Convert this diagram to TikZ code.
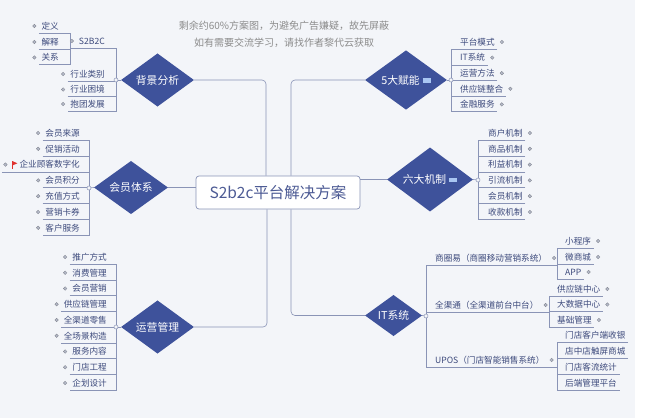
\documentclass[tikz,border=0pt]{standalone}
\usepackage{fontspec}
\setmainfont{Noto Sans CJK SC}
\usetikzlibrary{shapes.geometric}
\definecolor{topicc}{HTML}{3E529B}
\definecolor{linec}{HTML}{8A94B6}
\definecolor{leafc}{HTML}{3D4A7C}
\definecolor{rootc}{HTML}{4C5A94}
\definecolor{bgc}{HTML}{F3F5F9}
\definecolor{notec}{HTML}{A9C6F2}
\definecolor{memoc}{HTML}{8C8C8C}
\definecolor{flagc}{HTML}{E0322E}
\definecolor{knobc}{HTML}{B4B9C8}
\begin{document}
\begin{tikzpicture}[x=1pt,y=-1pt,
		root/.style={rectangle,rounded corners=3pt,draw=linec,line width=0.7pt,fill=white,minimum width=164pt,minimum height=33pt,text=rootc,font=\fontsize{15.5}{18}\selectfont},
		topic/.style={diamond,fill=topicc,text=white,inner sep=0pt,font=\fontsize{10.8}{12}\selectfont},
		leaf/.style={rectangle,inner xsep=2.5pt,inner ysep=0pt,minimum height=14pt,text=leafc,font=\fontsize{8.6}{10}\selectfont},
		leafl/.style={leaf,anchor=east},
		leafr/.style={leaf,anchor=west},
		branch/.style={draw=linec,line width=0.6pt},
		joint/.style={draw=linec,fill=bgc,line width=0.5pt},
		knob/.style={draw=knobc!70!black,fill=knobc,line width=0.3pt}]
		\fill[white] (0,0) rectangle (656,418);
		\fill[bgc] (0,0) rectangle (635,418);
		\useasboundingbox (0,0) rectangle (656,418);

		\node at (284,34.5) [align=center,text=memoc,font=\fontsize{10}{17}\selectfont] (memo) {剩余约60\%方案图，为避免广告嫌疑，故先屏蔽\\如有需要交流学习，请找作者黎代云获取};

		\node at (278,192.5) [root] (root) {S2b2c平台解决方案};

		\node at (157.5,80)  [topic,minimum width=73pt,minimum height=44pt] (bg)   {背景分析};
		\node at (131,187.5) [topic,minimum width=74pt,minimum height=45pt] (mem)  {会员体系};
		\node at (157.5,327) [topic,minimum width=73pt,minimum height=44pt] (op)   {运营管理};
		\node at (406,80)    [topic,minimum width=82pt,minimum height=44pt] (five) {5大赋能\hspace{3pt}\textcolor{notec}{\rule[1.2pt]{8pt}{4.5pt}}};
		\node at (430,179.5) [topic,minimum width=86pt,minimum height=46pt] (six)  {六大机制\hspace{3pt}\textcolor{notec}{\rule[1.2pt]{8pt}{4.5pt}}};
		\node at (393.5,315.5) [topic,minimum width=57pt,minimum height=39pt] (it) {IT系统};

		\coordinate (bgj)   at (116,80);
		\coordinate (s2j)   at (70,48);
		\coordinate (memj)  at (89,188);
		\coordinate (opj)   at (116,327);
		\coordinate (fivej) at (451,80);
		\coordinate (sixj)  at (478,180);
		\coordinate (itj)   at (426,316);
		\coordinate (sqj)   at (557,265);
		\coordinate (qqj)   at (549,312);
		\coordinate (upj)   at (557,367);

		\node at (107.5,41)   [leafl] (s2b) {S2B2C};
		\node at (107.5,74)   [leafl] (hy1) {行业类别};
		\node at (107.5,89.5) [leafl] (hy2) {行业困境};
		\node at (107.5,104)  [leafl] (hy3) {抱团发展};
		\node at (61.5,26)    [leafl] (dy)  {定义};
		\node at (61.5,42)    [leafl] (js)  {解释};
		\node at (61.5,57.5)  [leafl] (gx)  {关系};

		\node at (82.5,133)   [leafl] (ms1) {会员来源};
		\node at (82.5,148.8) [leafl] (ms2) {促销活动};
		\node at (82.5,164.6) [leafl] (ms3) {企业顾客数字化};
		\node at (82.5,180.4) [leafl] (ms4) {会员积分};
		\node at (82.5,196.2) [leafl] (ms5) {充值方式};
		\node at (82.5,212)   [leafl] (ms6) {营销卡券};
		\node at (82.5,227.8) [leafl] (ms7) {客户服务};

		\node at (109.5,257)    [leafl] (yy1) {推广方式};
		\node at (109.5,272.75) [leafl] (yy2) {消费管理};
		\node at (109.5,288.5)  [leafl] (yy3) {会员营销};
		\node at (109.5,304.25) [leafl] (yy4) {供应链管理};
		\node at (109.5,320)    [leafl] (yy5) {全渠道零售};
		\node at (109.5,335.75) [leafl] (yy6) {全场景构造};
		\node at (109.5,351.5)  [leafl] (yy7) {服务内容};
		\node at (109.5,367.25) [leafl] (yy8) {门店工程};
		\node at (109.5,383)    [leafl] (yy9) {企划设计};

		\node at (457.5,42)    [leafr] (fn1) {平台模式};
		\node at (457.5,57.6)  [leafr] (fn2) {IT系统};
		\node at (457.5,73.2)  [leafr] (fn3) {运营方法};
		\node at (457.5,88.8)  [leafr] (fn4) {供应链整合};
		\node at (457.5,104.4) [leafr] (fn5) {金融服务};

		\node at (485.5,133)   [leafr] (jz1) {商户机制};
		\node at (485.5,148.8) [leafr] (jz2) {商品机制};
		\node at (485.5,164.6) [leafr] (jz3) {利益机制};
		\node at (485.5,180.4) [leafr] (jz4) {引流机制};
		\node at (485.5,196.2) [leafr] (jz5) {会员机制};
		\node at (485.5,212)   [leafr] (jz6) {收款机制};

		\node at (432.5,258) [leafr] (sq) {商圈易（商圈移动营销系统）};
		\node at (432.5,305) [leafr] (qq) {全渠通（全渠道前台中台）};
		\node at (432.5,360) [leafr] (up) {UPOS（门店智能销售系统）};

		\node at (562.5,241)   [leafr] (sq1) {小程序};
		\node at (562.5,257)   [leafr] (sq2) {微商城};
		\node at (562.5,272)   [leafr] (sq3) {APP};
		\node at (554.5,289)   [leafr] (qq1) {供应链中心};
		\node at (554.5,304.5) [leafr] (qq2) {大数据中心};
		\node at (554.5,320)   [leafr] (qq3) {基础管理};
		\node at (562.5,335)   [leafr] (up1) {门店客户端收银};
		\node at (562.5,351)   [leafr] (up2) {店中店触屏商城};
		\node at (562.5,367)   [leafr] (up3) {门店客流统计};
		\node at (562.5,383)   [leafr] (up4) {后端管理平台};

		\draw[branch,rounded corners=4pt] ([xshift=-12pt]root.north) |- (bg.east);
		\draw[branch,rounded corners=4pt] ([xshift=13pt]root.north)  |- (five.west);
		\draw[branch] (root.west |- mem.east) -- (mem.east);
		\draw[branch] (root.east |- six.west) -- (six.west);
		\draw[branch,rounded corners=4pt] ([xshift=-11pt]root.south) |- (op.east);
		\draw[branch,rounded corners=4pt] ([xshift=13pt]root.south)  |- (it.west);

		\draw[branch] (bg.west) -- (bgj);
		\draw[branch] (s2b.south -| s2j) -- (s2b.south -| bgj) -- (hy3.south -| bgj) -- (hy3.south west);
		\draw[branch] (hy1.south west) -- (hy1.south -| bgj) (hy2.south west) -- (hy2.south -| bgj);
		\draw[branch] (dy.south west) -- (dy.south -| s2j) -- (gx.south -| s2j) -- (gx.south west);
		\draw[branch] (js.south west) -- (js.south -| s2j);

		\draw[branch] (mem.west) -- (memj);
		\draw[branch] (ms1.south west) -- (ms1.south -| memj) -- (ms7.south -| memj) -- (ms7.south west);
		\draw[branch] (ms2.south west) -- (ms2.south -| memj) ([xshift=-15pt]ms3.south west) -- (ms3.south -| memj)
			(ms4.south west) -- (ms4.south -| memj) (ms5.south west) -- (ms5.south -| memj) (ms6.south west) -- (ms6.south -| memj);

		\draw[branch] (op.west) -- (opj);
		\draw[branch] (yy1.south west) -- (yy1.south -| opj) -- (yy9.south -| opj) -- (yy9.south west);
		\draw[branch] (yy2.south west) -- (yy2.south -| opj) (yy3.south west) -- (yy3.south -| opj) (yy4.south west) -- (yy4.south -| opj)
			(yy5.south west) -- (yy5.south -| opj) (yy6.south west) -- (yy6.south -| opj) (yy7.south west) -- (yy7.south -| opj)
			(yy8.south west) -- (yy8.south -| opj);

		\draw[branch] (five.east) -- (fivej);
		\draw[branch] (fn1.south east) -- (fn1.south -| fivej) -- (fn5.south -| fivej) -- (fn5.south east);
		\draw[branch] (fn2.south east) -- (fn2.south -| fivej) (fn3.south east) -- (fn3.south -| fivej) (fn4.south east) -- (fn4.south -| fivej);

		\draw[branch] (six.east) -- (sixj);
		\draw[branch] (jz1.south east) -- (jz1.south -| sixj) -- (jz6.south -| sixj) -- (jz6.south east);
		\draw[branch] (jz2.south east) -- (jz2.south -| sixj) (jz3.south east) -- (jz3.south -| sixj) (jz4.south east) -- (jz4.south -| sixj)
			(jz5.south east) -- (jz5.south -| sixj);

		\draw[branch] (it.east) -- (itj);
		\draw[branch] (sq.south -| sqj) -- (sq.south -| itj) -- (up.south -| itj) -- (up.south -| upj);
		\draw[branch] (qq.south -| itj) -- (qq.south -| qqj);
		\draw[branch] (sq1.south east) -- (sq1.south -| sqj) -- (sq3.south -| sqj) -- (sq3.south east);
		\draw[branch] (sq2.south east) -- (sq2.south -| sqj);
		\draw[branch] (qq1.south east) -- (qq1.south -| qqj) -- (qq3.south -| qqj) -- (qq3.south east);
		\draw[branch] (qq2.south east) -- (qq2.south -| qqj);
		\draw[branch] (up1.south east) -- (up1.south -| upj) -- (up4.south -| upj) -- (up4.south east);
		\draw[branch] (up2.south east) -- (up2.south -| upj) (up3.south east) -- (up3.south -| upj);

		\draw[joint] (bgj) circle (2pt) (memj) circle (2pt) (opj) circle (2pt) (fivej) circle (2pt) (sixj) circle (2pt) (itj) circle (2pt);

		\draw[knob] ([xshift=-4.5pt]s2b.west) circle (1.8pt) ([xshift=-4.5pt]hy1.west) circle (1.8pt) ([xshift=-4.5pt]hy2.west) circle (1.8pt)
			([xshift=-4.5pt]hy3.west) circle (1.8pt) ([xshift=-4.5pt]dy.west) circle (1.8pt) ([xshift=-4.5pt]js.west) circle (1.8pt)
			([xshift=-4.5pt]gx.west) circle (1.8pt);
		\draw[knob] ([xshift=-4.5pt]ms1.west) circle (1.8pt) ([xshift=-4.5pt]ms2.west) circle (1.8pt) ([xshift=-11.5pt]ms3.west) circle (1.8pt)
			([xshift=-4.5pt]ms4.west) circle (1.8pt) ([xshift=-4.5pt]ms5.west) circle (1.8pt) ([xshift=-4.5pt]ms6.west) circle (1.8pt)
			([xshift=-4.5pt]ms7.west) circle (1.8pt);
		\draw[knob] ([xshift=-4.5pt]yy1.west) circle (1.8pt) ([xshift=-4.5pt]yy2.west) circle (1.8pt) ([xshift=-4.5pt]yy3.west) circle (1.8pt)
			([xshift=-4.5pt]yy4.west) circle (1.8pt) ([xshift=-4.5pt]yy5.west) circle (1.8pt) ([xshift=-4.5pt]yy6.west) circle (1.8pt)
			([xshift=-4.5pt]yy7.west) circle (1.8pt) ([xshift=-4.5pt]yy8.west) circle (1.8pt) ([xshift=-4.5pt]yy9.west) circle (1.8pt);
		\draw[knob] ([xshift=4.5pt]fn1.east) circle (1.8pt) ([xshift=4.5pt]fn2.east) circle (1.8pt) ([xshift=4.5pt]fn3.east) circle (1.8pt)
			([xshift=4.5pt]fn4.east) circle (1.8pt) ([xshift=4.5pt]fn5.east) circle (1.8pt);
		\draw[knob] ([xshift=4.5pt]jz1.east) circle (1.8pt) ([xshift=4.5pt]jz2.east) circle (1.8pt) ([xshift=4.5pt]jz3.east) circle (1.8pt)
			([xshift=4.5pt]jz4.east) circle (1.8pt) ([xshift=4.5pt]jz5.east) circle (1.8pt) ([xshift=4.5pt]jz6.east) circle (1.8pt);
		\draw[knob] ([xshift=4.5pt]sq.east) circle (1.8pt) ([xshift=4.5pt]qq.east) circle (1.8pt) ([xshift=4.5pt]up.east) circle (1.8pt)
			([xshift=4.5pt]sq1.east) circle (1.8pt) ([xshift=4.5pt]sq2.east) circle (1.8pt) ([xshift=4.5pt]sq3.east) circle (1.8pt)
			([xshift=4.5pt]qq1.east) circle (1.8pt) ([xshift=4.5pt]qq2.east) circle (1.8pt) ([xshift=4.5pt]qq3.east) circle (1.8pt);

		\draw[flagc,line width=0.6pt] ([xshift=-4.5pt,yshift=3.5pt]ms3.west) -- ++(0,-8pt);
		\fill[flagc] ([xshift=-4.5pt,yshift=3.5pt]ms3.west) -- ++(5pt,-2.2pt) -- ++(-5pt,-2.2pt) -- cycle;
	\end{tikzpicture}
\end{document}
